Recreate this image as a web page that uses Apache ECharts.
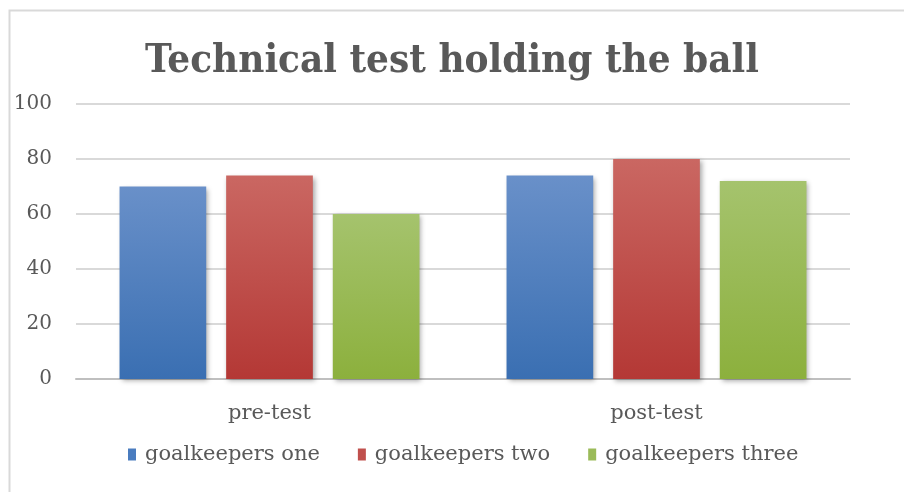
<!DOCTYPE html>
<html><head><meta charset="utf-8">
<script src="https://cdn.jsdelivr.net/npm/echarts@6/dist/echarts.min.js"></script>
<style>html,body{margin:0;padding:0;background:#fff}#c{width:904px;height:492px}</style>
</head><body><div id="c"></div>
<script>
const titleText = 'Technical test holding the ball';
const categories = ['pre-test', 'post-test'];
const seriesNames = ['goalkeepers one', 'goalkeepers two', 'goalkeepers three'];
const goalkeepersOne = [70, 74];
const goalkeepersTwo = [74, 80];
const goalkeepersThree = [60, 72];
const yTicks = [0, 20, 40, 60, 80, 100];

const FONT_C = '"DejaVu Serif Condensed", "DejaVu Serif", serif';
const FONT = '"DejaVu Serif", serif';
const gradients = [
  ['#6990c9', '#3a6fb2'],
  ['#ca6762', '#b43835'],
  ['#a5c36d', '#8cb03d']
];
const legendColors = ['#4a7cbf', '#c0504d', '#9bbb59'];
const values = [goalkeepersOne, goalkeepersTwo, goalkeepersThree];

const chart = echarts.init(document.getElementById('c'), null, {renderer: 'canvas'});
chart.setOption({
  animation: false,
  backgroundColor: '#fff',
  title: {
    text: titleText, left: 'center', top: 37,
    textStyle: {fontFamily: FONT_C, fontSize: 40, fontWeight: 'bold', color: '#595959'}
  },
  graphic: [{
    type: 'rect', left: 7, top: 8,
    shape: {width: 920, height: 500},
    style: {fill: 'none', stroke: '#d9d9d9', lineWidth: 2},
    silent: true
  }],
  legend: {
    bottom: 22, left: 123,
    itemWidth: 8, itemHeight: 12, itemGap: 38,
    icon: 'rect',
    textStyle: {fontFamily: FONT, fontSize: 21, color: '#595959', padding: [0, 0, 0, 4]},
    data: seriesNames.map((n, i) => ({name: n, itemStyle: {color: legendColors[i]}}))
  },
  grid: {left: 76, right: 54, top: 104, bottom: 113, containLabel: false},
  xAxis: {
    type: 'category', data: categories,
    axisLine: {lineStyle: {color: '#bfbfbf', width: 2}},
    axisTick: {show: false},
    axisLabel: {fontFamily: FONT, fontSize: 21, color: '#595959', margin: 24}
  },
  yAxis: {
    type: 'value', min: yTicks[0], max: yTicks[yTicks.length - 1], interval: 20,
    axisLine: {show: false}, axisTick: {show: false},
    splitLine: {lineStyle: {color: '#d9d9d9', width: 2}},
    axisLabel: {fontFamily: FONT, fontSize: 20, color: '#595959', margin: 24}
  },
  series: seriesNames.map((n, i) => ({
    name: n, type: 'bar', data: values[i],
    barWidth: '22.4%', barGap: '23%',
    itemStyle: {
      color: new echarts.graphic.LinearGradient(0, 0, 0, 1, [
        {offset: 0, color: gradients[i][0]}, {offset: 1, color: gradients[i][1]}
      ]),
      shadowBlur: 5, shadowOffsetX: 2, shadowOffsetY: 2, shadowColor: 'rgba(0,0,0,0.35)'
    }
  }))
});
</script></body></html>
